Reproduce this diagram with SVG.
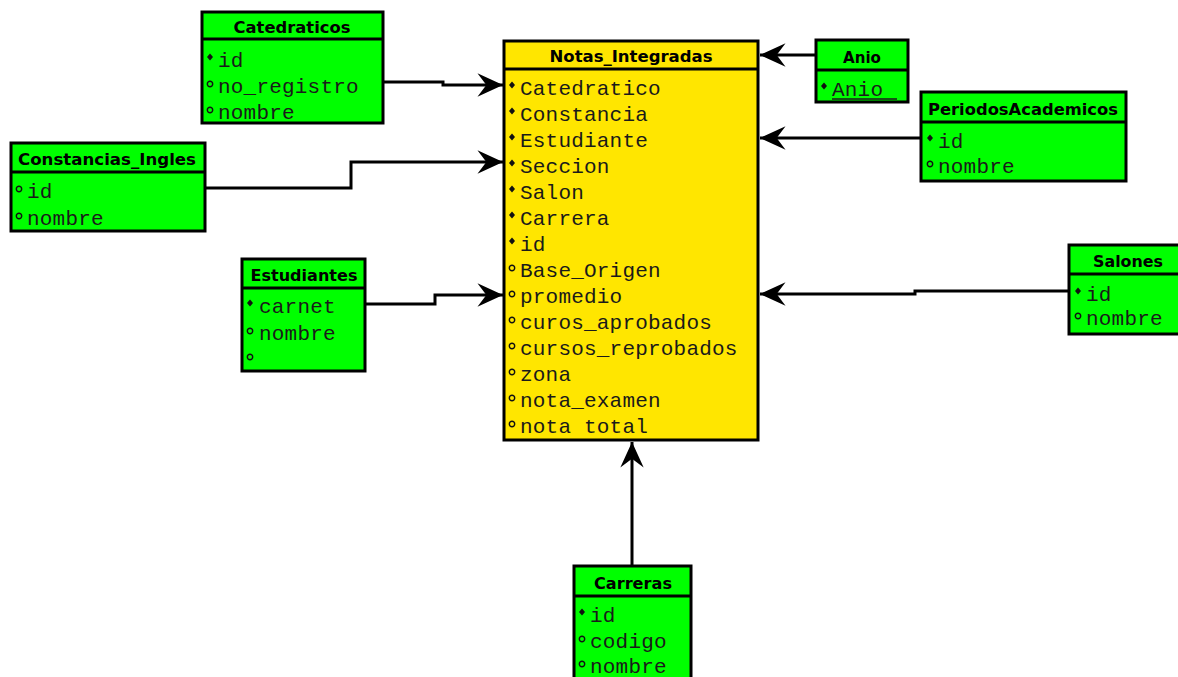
<svg xmlns="http://www.w3.org/2000/svg" xmlns:xlink="http://www.w3.org/1999/xlink" width="1178" height="677" viewBox="0 0 1178 677">
<style>
.bg{fill:#ffffff}
.tbl{stroke:#000;stroke-width:3}
.g{fill:#00ff00}
.y{fill:#ffe600}
.hl{stroke:#000;stroke-width:3}
.hd{font-family:"DejaVu Sans",Verdana,sans-serif;font-weight:bold;font-size:16.5px;fill:#000;text-anchor:middle}
.at{font-family:"Liberation Mono","Courier New",monospace;font-size:21px;letter-spacing:0.2px;fill:#1a1a1a}
.cn{fill:none;stroke:#000;stroke-width:3}
.pk{fill:#111}
.op{fill:none;stroke:#111;stroke-width:1.4}
</style>
<defs>
<marker id="arr" markerUnits="userSpaceOnUse" markerWidth="30" markerHeight="30" viewBox="-25 -12 27 24" refX="0" refY="0" orient="auto" overflow="visible">
<path d="M0,0 L-23,-10.5 L-15,0 L-23,10.5 Z" fill="#000"/>
</marker>
<path id="pk" class="pk" d="M0,-3.5 L3,0 L0,3.5 L-3,0 Z"/>
<circle id="op" class="op" r="2.7"/>
</defs>
<rect class="bg" x="0" y="0" width="1178" height="677"/>

<g id="connectors">
<path class="cn" d="M383,82 H443 V85 H503" marker-end="url(#arr)"/>
<path class="cn" d="M206,188 H351 V162 H503" marker-end="url(#arr)"/>
<path class="cn" d="M366,304 H435 V295 H503" marker-end="url(#arr)"/>
<path class="cn" d="M816,55 H760" marker-end="url(#arr)"/>
<path class="cn" d="M921,138 H760" marker-end="url(#arr)"/>
<path class="cn" d="M1069,291 H915 V294 H760" marker-end="url(#arr)"/>
<path class="cn" d="M632,566 V442" marker-end="url(#arr)"/>
</g>

<g id="Notas_Integradas">
<rect class="tbl y" x="504" y="41" width="254" height="399"/>
<line class="hl" x1="504" y1="69" x2="758" y2="69"/>
<text class="hd" x="631" y="62" textLength="163" lengthAdjust="spacingAndGlyphs">Notas_Integradas</text>
<use href="#pk" x="512" y="85"/><text class="at" x="520" y="95">Catedratico</text>
<use href="#pk" x="512" y="111"/><text class="at" x="520" y="121">Constancia</text>
<use href="#pk" x="512" y="137"/><text class="at" x="520" y="147">Estudiante</text>
<use href="#pk" x="512" y="163"/><text class="at" x="520" y="173">Seccion</text>
<use href="#pk" x="512" y="189"/><text class="at" x="520" y="199">Salon</text>
<use href="#pk" x="512" y="215"/><text class="at" x="520" y="225">Carrera</text>
<use href="#pk" x="512" y="241"/><text class="at" x="520" y="251">id</text>
<use href="#op" x="512" y="268"/><text class="at" x="520" y="277">Base_Origen</text>
<use href="#op" x="512" y="294"/><text class="at" x="520" y="303">promedio</text>
<use href="#op" x="512" y="320"/><text class="at" x="520" y="329">curos_aprobados</text>
<use href="#op" x="512" y="346"/><text class="at" x="520" y="355">cursos_reprobados</text>
<use href="#op" x="512" y="372"/><text class="at" x="520" y="381">zona</text>
<use href="#op" x="512" y="398"/><text class="at" x="520" y="407">nota_examen</text>
<use href="#op" x="512" y="424"/><text class="at" x="520" y="433">nota total</text>
</g>

<g id="Catedraticos">
<rect class="tbl g" x="202" y="12" width="181" height="111"/>
<line class="hl" x1="202" y1="39" x2="383" y2="39"/>
<text class="hd" x="292" y="33" textLength="117" lengthAdjust="spacingAndGlyphs">Catedraticos</text>
<use href="#pk" x="210" y="57"/><text class="at" x="218" y="67">id</text>
<use href="#op" x="210" y="84"/><text class="at" x="218" y="93">no_registro</text>
<use href="#op" x="210" y="110"/><text class="at" x="218" y="119">nombre</text>
</g>

<g id="Anio">
<rect class="tbl g" x="816" y="40" width="92" height="62"/>
<line class="hl" x1="816" y1="70" x2="908" y2="70"/>
<text class="hd" x="862" y="63" textLength="38" lengthAdjust="spacingAndGlyphs">Anio</text>
<use href="#pk" x="824" y="86"/><text class="at" x="832" y="96">Anio</text>
<line x1="832" y1="99" x2="897" y2="99" stroke="#1a1a1a" stroke-width="1.3"/>
</g>

<g id="PeriodosAcademicos">
<rect class="tbl g" x="921" y="92" width="205" height="89"/>
<line class="hl" x1="921" y1="122" x2="1126" y2="122"/>
<text class="hd" x="1023" y="115" textLength="190" lengthAdjust="spacingAndGlyphs">PeriodosAcademicos</text>
<use href="#pk" x="930" y="138"/><text class="at" x="938" y="148">id</text>
<use href="#op" x="930" y="164"/><text class="at" x="938" y="173">nombre</text>
</g>

<g id="Constancias_Ingles">
<rect class="tbl g" x="11" y="143" width="194" height="88"/>
<line class="hl" x1="11" y1="172" x2="205" y2="172"/>
<text class="hd" x="107" y="165" textLength="178" lengthAdjust="spacingAndGlyphs">Constancias_Ingles</text>
<use href="#op" x="19" y="189"/><text class="at" x="27" y="198">id</text>
<use href="#op" x="19" y="216"/><text class="at" x="27" y="225">nombre</text>
</g>

<g id="Estudiantes">
<rect class="tbl g" x="242" y="259" width="123" height="112"/>
<line class="hl" x1="242" y1="288" x2="365" y2="288"/>
<text class="hd" x="304" y="281" textLength="107" lengthAdjust="spacingAndGlyphs">Estudiantes</text>
<use href="#pk" x="250" y="303"/><text class="at" x="259" y="313">carnet</text>
<use href="#op" x="250" y="331"/><text class="at" x="259" y="340">nombre</text>
<use href="#op" x="250" y="357"/>
</g>

<g id="Salones">
<rect class="tbl g" x="1069" y="245" width="112" height="89"/>
<line class="hl" x1="1069" y1="274" x2="1181" y2="274"/>
<text class="hd" x="1128" y="267" textLength="70" lengthAdjust="spacingAndGlyphs">Salones</text>
<use href="#pk" x="1078" y="291"/><text class="at" x="1086" y="301">id</text>
<use href="#op" x="1078" y="316"/><text class="at" x="1086" y="325">nombre</text>
</g>

<g id="Carreras">
<rect class="tbl g" x="574" y="566" width="117" height="120"/>
<line class="hl" x1="574" y1="596" x2="691" y2="596"/>
<text class="hd" x="633" y="589" textLength="78" lengthAdjust="spacingAndGlyphs">Carreras</text>
<use href="#pk" x="582" y="612"/><text class="at" x="590" y="622">id</text>
<use href="#op" x="582" y="639"/><text class="at" x="590" y="648">codigo</text>
<use href="#op" x="582" y="664"/><text class="at" x="590" y="673">nombre</text>
</g>
</svg>
